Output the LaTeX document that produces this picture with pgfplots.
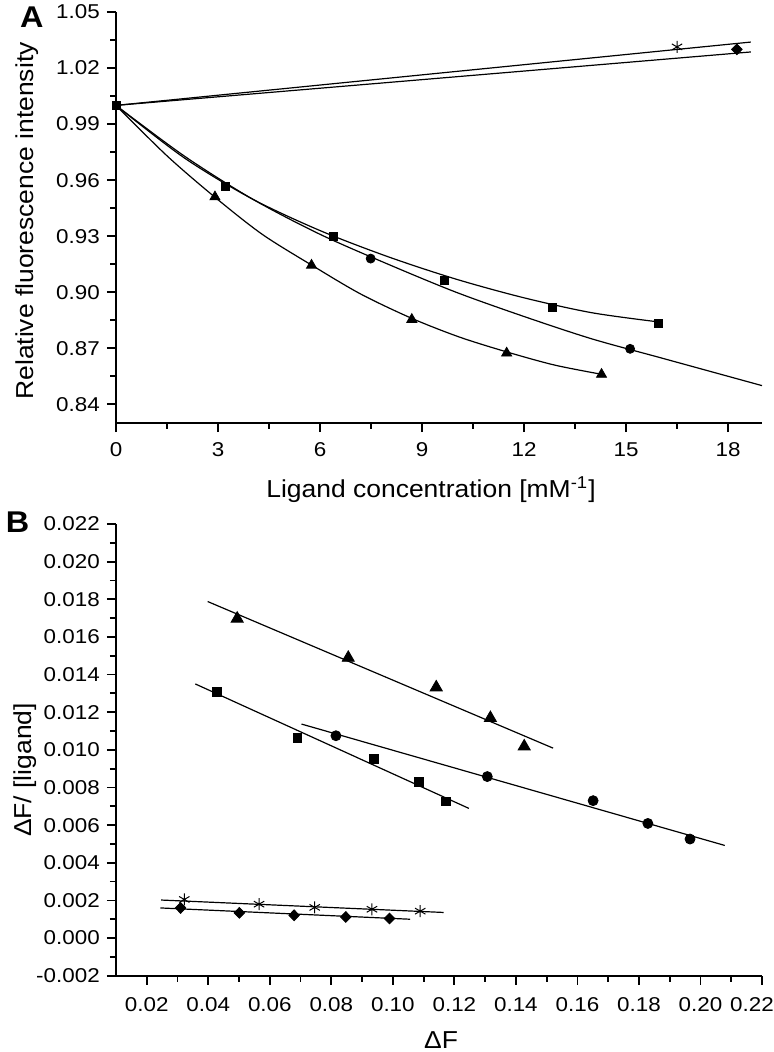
\documentclass[border=0pt]{standalone}
\usepackage{pgfplots}
\pgfplotsset{compat=1.18}
\usepackage{fontspec}
\setmainfont[FakeStretch=1.08]{Liberation Sans}
\newfontfamily\tickfam[FakeStretch=1.12]{Liberation Sans}
\newcommand{\tickfont}{\tickfam\fontsize{10}{11}\selectfont}
\newcommand{\labfont}{\fontsize{12.25}{14}\selectfont}
\pgfplotsset{
  common/.style={
    scale only axis,
    anchor=south west,
    axis x line=bottom, axis y line=left,
    x axis line style={-}, y axis line style={-},
    axis line style={line width=1pt, black},
    tick align=outside,
    major tick length=4.6pt, minor tick length=3pt,
    every tick/.style={line width=0.9pt, black},
    /pgf/number format/assume math mode=true,
    tick label style={font=\tickfont},
    clip=false,
    fitline/.style={black, line width=0.6pt, no markers},
  }
}
\begin{document}
\begin{tikzpicture}
\path[use as bounding box] (0pt,0pt) rectangle (387pt,526pt);
% ---------------- Panel A ----------------
\begin{axis}[common,
  at={(58pt,314.5pt)}, width=323pt, height=205.5pt,
  xmin=0, xmax=19, ymin=0.83, ymax=1.05,
  xtick={0,3,6,9,12,15,18},
  minor xtick={1.5,4.5,7.5,10.5,13.5,16.5},
  ytick={0.84,0.87,0.90,0.93,0.96,0.99,1.02,1.05},
  minor ytick={0.855,0.885,0.915,0.945,0.975,1.005,1.035},
  yticklabel style={/pgf/number format/.cd, fixed, fixed zerofill, precision=2},
  xticklabel style={yshift=-1.5pt},
]
% fitted curves
\addplot[fitline, smooth] coordinates {(0,1.000) (1.5,0.973) (2.9,0.951) (4.3,0.931) (5.8,0.914) (7.2,0.899) (8.7,0.886) (10.1,0.876) (11.5,0.868) (12.9,0.861) (14.3,0.856)};
\addplot[fitline, smooth] coordinates {(0,1.000) (2,0.972) (4,0.950) (6,0.933) (8,0.919) (10,0.907) (12,0.897) (14,0.889) (16,0.884)};
\addplot[fitline, smooth] coordinates {(0,1.000) (2,0.973) (4,0.950) (6,0.931) (8,0.915) (10,0.900) (12,0.887) (14,0.875) (16,0.865) (18,0.855) (19,0.850)};
\addplot[fitline] coordinates {(0,1.000) (18.67,1.0339)};
\addplot[fitline] coordinates {(0,1.000) (18.67,1.0286)};
% data
\addplot[only marks, mark=triangle*, mark size=2.9pt, black] coordinates {(2.91,0.951) (5.75,0.9144) (8.70,0.8854) (11.49,0.8674) (14.28,0.856)};
\addplot[only marks, mark=square*, mark size=2pt, black] coordinates {(0,1.000) (3.23,0.9567) (6.40,0.930) (9.65,0.9065) (12.83,0.892) (15.94,0.8835)};
\addplot[only marks, mark=*, mark size=2.25pt, black] coordinates {(7.49,0.918) (15.12,0.8697)};
\addplot[only marks, mark=asterisk, mark size=3pt, black, mark options={line width=0.5pt}] coordinates {(16.5,1.0313)};
\addplot[only marks, mark=diamond*, mark size=2.7pt, black, mark options={xscale=1.3}] coordinates {(18.26,1.030)};
\end{axis}
% ---------------- Panel B ----------------
\begin{axis}[common,
  at={(58pt,38.15pt)}, width=323pt, height=225.85pt,
  xmin=0.01, xmax=0.22, ymin=-0.002, ymax=0.022,
  xtick={0.02,0.04,0.06,0.08,0.10,0.12,0.14,0.16,0.18,0.20,0.22},
  xticklabels={0.02,0.04,0.06,0.08,0.10,0.12,0.14,0.16,0.18,0.20,0.22\kern10pt},
  minor xtick={0.03,0.05,0.07,0.09,0.11,0.13,0.15,0.17,0.19,0.21},
  ytick={-0.002,0,0.002,0.004,0.006,0.008,0.010,0.012,0.014,0.016,0.018,0.020,0.022},
  minor ytick={-0.001,0.001,0.003,0.005,0.007,0.009,0.011,0.013,0.015,0.017,0.019,0.021},
  yticklabel style={/pgf/number format/.cd, fixed, fixed zerofill, precision=3},
  xticklabel style={yshift=-3pt},
  scaled ticks=false,
]
% fitted lines
\addplot[fitline] coordinates {(0.0398,0.01788) (0.1521,0.01009)};
\addplot[fitline] coordinates {(0.0358,0.0135) (0.1247,0.00689)};
\addplot[fitline] coordinates {(0.0703,0.01137) (0.2079,0.00492)};
\addplot[fitline] coordinates {(0.0247,0.00202) (0.1165,0.00136)};
\addplot[fitline] coordinates {(0.0244,0.0016) (0.1056,0.0010)};
% data
\addplot[only marks, mark=triangle*, mark size=3.5pt, black] coordinates {(0.0494,0.01697) (0.0855,0.01489) (0.1141,0.01332) (0.1317,0.01169) (0.1427,0.01018)};
\addplot[only marks, mark=square*, mark size=2.2pt, black] coordinates {(0.0429,0.01309) (0.0690,0.01062) (0.0938,0.00952) (0.1084,0.00828) (0.1172,0.00726)};
\addplot[only marks, mark=*, mark size=2.5pt, black] coordinates {(0.0815,0.01075) (0.1307,0.00858) (0.1651,0.0073) (0.1829,0.00609) (0.1966,0.00526)};
\addplot[only marks, mark=asterisk, mark size=3pt, black, mark options={line width=0.5pt}] coordinates {(0.0322,0.00205) (0.0565,0.0018) (0.0746,0.00163) (0.0932,0.00153) (0.1089,0.00143)};
\addplot[only marks, mark=diamond*, mark size=2.7pt, black, mark options={xscale=1.3}] coordinates {(0.0310,0.0016) (0.0501,0.00134) (0.0679,0.00121) (0.0847,0.00112) (0.0989,0.00104)};
\end{axis}
% ---------------- labels ----------------
\node[font=\fontsize{15}{16}\selectfont\bfseries, inner sep=0pt] at (15.85pt,517.25pt) {A};
\node[font=\fontsize{15}{16}\selectfont\bfseries, inner sep=0pt] at (8.75pt,265.15pt) {B};
\node[font=\labfont, rotate=90, anchor=base, inner sep=0pt] at (16.5pt,415.5pt) {Relative fluorescence intensity};
\node[font=\labfont, anchor=base, inner sep=0pt] at (215.5pt,277.15pt) {Ligand concentration [mM\textsuperscript{-1}]};
\node[font=\labfont, rotate=90, anchor=base, inner sep=0pt] at (15.5pt,141pt) {ΔF/ [ligand]};
\node[font=\labfont, anchor=base, inner sep=0pt] at (220.5pt,1.85pt) {ΔF};
\end{tikzpicture}
\end{document}
